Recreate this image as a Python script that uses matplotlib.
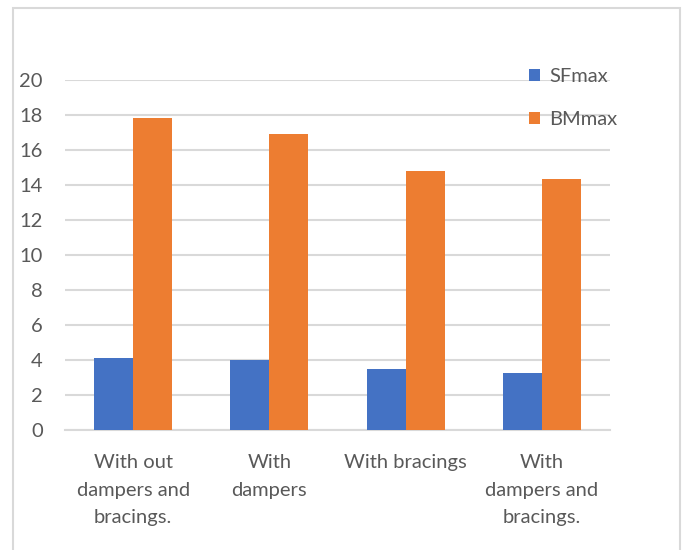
import matplotlib.pyplot as plt
import numpy as np
from matplotlib.patches import Rectangle

# Max shear force / bending moment for each structural configuration
categories = ["With out\ndampers and\nbracings.", "With\ndampers",
              "With bracings", "With\ndampers and\nbracings."]
sf_max = [4.1, 3.98, 3.46, 3.26]
bm_max = [17.85, 16.92, 14.78, 14.32]

plt.rcParams['font.family'] = ['Lato', 'DejaVu Sans']
text_color = '#595959'
grid_color = '#d9d9d9'
fs = 14.5

fig = plt.figure(figsize=(6.83, 5.5), dpi=100)
ax = fig.add_axes([65 / 683, 1 - 430 / 550, 545 / 683, 350 / 550])

x = np.arange(len(categories))
w = 0.286
ax.bar(x - w / 2, sf_max, w, color='#4472C4', label='SFmax', zorder=3)
ax.bar(x + w / 2, bm_max, w, color='#ED7D31', label='BMmax', zorder=3)

ax.set_xlim(-0.5, len(categories) - 0.5)
ax.set_ylim(0, 20)
ax.set_yticks(np.arange(0, 21, 2))
ax.yaxis.grid(True, color=grid_color, linewidth=1.5, zorder=0)
ax.set_axisbelow(True)

for side in ['top', 'right', 'left']:
    ax.spines[side].set_visible(False)
ax.spines['bottom'].set_color(grid_color)
ax.spines['bottom'].set_linewidth(1.5)

ax.tick_params(axis='both', length=0, colors=text_color, labelsize=fs)
ax.tick_params(axis='y', pad=16)
ax.tick_params(axis='x', pad=17)
ax.set_xticks(x)
ax.set_xticklabels(categories, va='top')
for lbl in ax.get_xticklabels():
    lbl.set_linespacing(1.78)

leg = ax.legend(loc='upper left', bbox_to_anchor=(519 / 683, 1 - 58 / 550),
                bbox_transform=fig.transFigure, frameon=False, fontsize=fs,
                labelcolor=text_color, handlelength=0.55, handleheight=0.55,
                handletextpad=0.45, labelspacing=1.3, borderpad=0)

# light outer frame around the chart
fig.patches.append(Rectangle((13 / 683, -0.05), 667 / 683, 1 - 8 / 550 + 0.05,
                             transform=fig.transFigure, fill=False,
                             edgecolor=grid_color, linewidth=1.5))

fig.savefig('out.png', dpi=100)
